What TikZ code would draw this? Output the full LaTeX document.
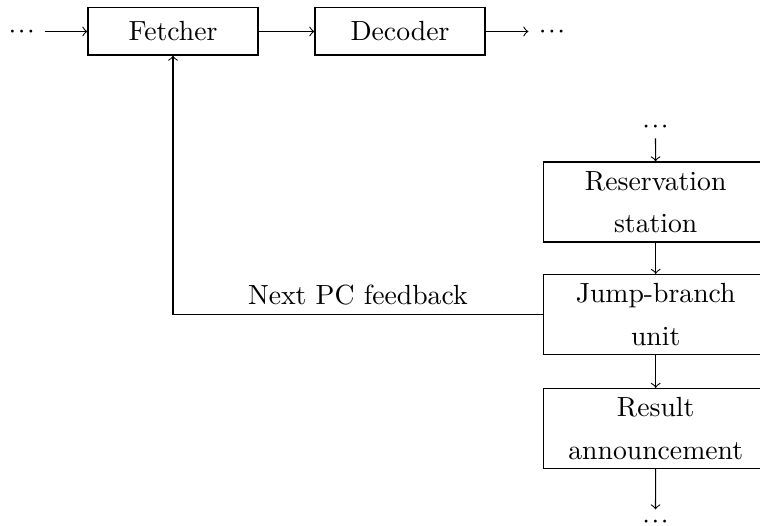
\documentclass[tikz,border=0pt]{standalone}
\usetikzlibrary{positioning}

\newcommand{\tightdots}{${\cdot}\mkern1mu{\cdot}\mkern1mu{\cdot}$}

\begin{document}
\begin{tikzpicture}[
  x=0.361pt, y=-0.361pt,
  stage/.style={draw, line width=0.4pt, minimum width=61.4pt, minimum height=17pt, inner sep=0pt},
  unitbox/.style={draw, line width=0.4pt, align=center, minimum width=81.2pt, minimum height=28.9pt, inner sep=0pt},
  elide/.style={text height=5pt, text depth=0pt, inner xsep=3.6pt, inner ysep=1.65pt},
  flow/.style={->, line width=0.4pt},
]
\useasboundingbox (0,0) rectangle (760,526);

% front end: fetch and decode
\node[elide] (inl) at (21.7,31.5) {\tightdots};
\node[stage] (fetch) at (173,31.5) {Fetcher};
\node[stage] (dec) at (400,31.5) {Decoder};
\node[elide] (outr) at (552,31.5) {\tightdots};

\draw[flow] (inl) -- (fetch);
\draw[flow] (fetch) -- (dec);
\draw[flow] (dec) -- (outr);

% execution column
\node[elide] (topdots) at (655.5,126.3) {\tightdots};
\node[unitbox] (rs) at (655.7,202) {Reservation\\[3.2pt] station};
\node[unitbox] (jbu) at (655.7,314.5) {Jump-branch\\[3.2pt] unit};
\node[unitbox] (res) at (655.7,428.5) {Result\\[3.2pt] announcement};
\node[elide] (botdots) at (655.5,521.5) {\tightdots};

\draw[flow] (topdots) -- (rs);
\draw[flow] (rs) -- (jbu);
\draw[flow] (jbu) -- (res);
\draw[flow] (res) -- (botdots);

% next-PC feedback to the fetcher
\draw[flow] (jbu.west) -- node[above, pos=0.5] {Next PC feedback} (jbu.west -| fetch.south) -- (fetch.south);

\end{tikzpicture}
\end{document}
